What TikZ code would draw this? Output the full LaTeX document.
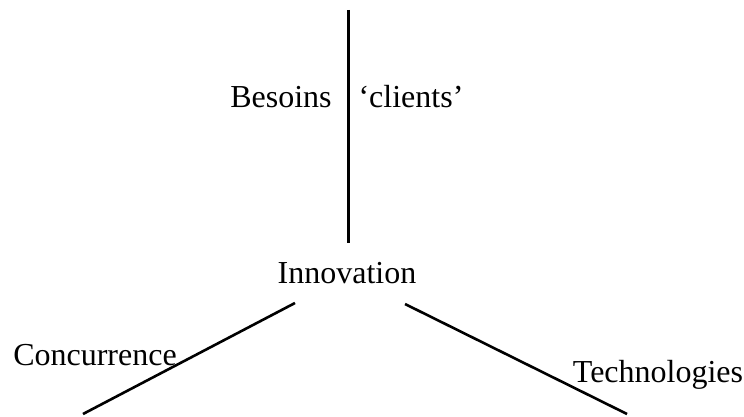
\documentclass[tikz,border=0pt]{standalone}
\usepackage{fontspec}
\setmainfont{Liberation Serif}
\begin{document}
\begin{tikzpicture}[x=1pt,y=-1pt,
  lbl/.style={inner sep=0pt,anchor=base,font=\fontsize{32}{38}\selectfont},
  stroke/.style={line width=2.6pt,line cap=butt}]
\useasboundingbox (0,0) rectangle (744,417);
\coordinate (top) at (348.5,10);
\coordinate (vbot) at (348.5,243);
\coordinate (ltop) at (295,303);
\coordinate (lbot) at (83,414);
\coordinate (rtop) at (405,304);
\coordinate (rbot) at (627,414);
\node[lbl] (innov) at (347,283) {Innovation};
\node[lbl] (besoins) at (281,108) {Besoins};
\node[lbl] (clients) at (411,108) {‘clients’};
\node[lbl] (conc) at (95,365) {Concurrence};
\node[lbl] (tech) at (658,382) {Technologies};
\draw[stroke] (top) -- (vbot);
\draw[stroke] (ltop) -- (lbot);
\draw[stroke] (rtop) -- (rbot);
\end{tikzpicture}
\end{document}
